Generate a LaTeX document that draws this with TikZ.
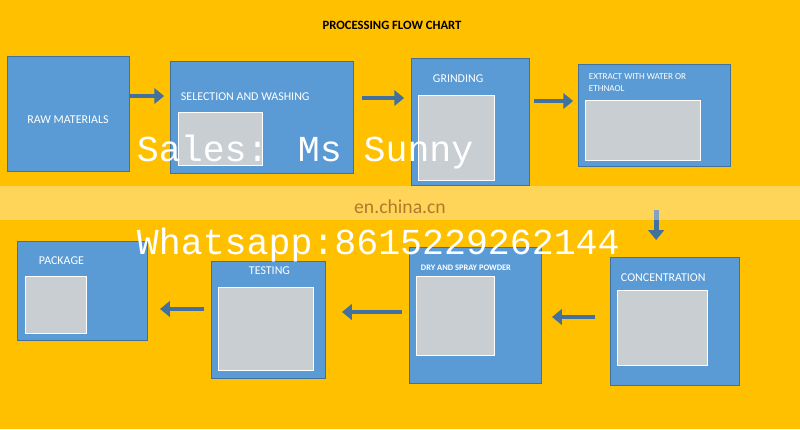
\documentclass[tikz,border=0pt]{standalone}
\usepackage{fontspec}
\setmainfont{Carlito}
\newfontfamily\wmfont{Liberation Mono}
\usetikzlibrary{arrows.meta,positioning}
\definecolor{bgyellow}{HTML}{FFC000}
\definecolor{boxblue}{HTML}{5B9BD5}
\definecolor{boxedge}{HTML}{41719C}
\definecolor{photogrey}{HTML}{C9CED3}
\definecolor{sitebrown}{HTML}{B07A2A}
\tikzset{
  box/.style={draw=boxedge,fill=boxblue,line width=0.8pt,anchor=north west,inner sep=0pt},
  photo/.style={draw=white,fill=photogrey,line width=1pt,anchor=north west,inner sep=0pt},
  lbl/.style={text=white,font=\fontsize{8.5}{9.5}\selectfont,anchor=north west,align=left},
  flow/.style={draw=boxedge,fill=boxblue,line width=3.5pt,-{Triangle[length=7pt,width=11pt]}},
  wmark/.style={text=white,font=\wmfont\fontsize{26}{28}\selectfont,anchor=west}
}
\begin{document}
\begin{tikzpicture}[x=0.025cm,y=-0.025cm]
\useasboundingbox (0,0) rectangle (800,429);
\fill[bgyellow] (0,0) rectangle (800,429);
\node[font=\bfseries\fontsize{9}{10}\selectfont] (title) at (392,25) {PROCESSING FLOW CHART};

% top row
\node[box,minimum width=122*0.025cm,minimum height=115*0.025cm] (raw) at (7,56) {};
\node[text=white,font=\fontsize{8.5}{9.5}\selectfont] (rawlbl) at (68,120) {RAW MATERIALS};
\node[box,minimum width=183*0.025cm,minimum height=112*0.025cm] (sel) at (170,61) {};
\node[lbl] (sellbl) at (176,88) {SELECTION AND WASHING};
\node[photo,minimum width=84*0.025cm,minimum height=53*0.025cm] (selpic) at (178,112) {};
\node[box,minimum width=118*0.025cm,minimum height=127*0.025cm] (grind) at (411,58) {};
\node[lbl] (grindlbl) at (428,70) {GRINDING};
\node[photo,minimum width=76*0.025cm,minimum height=85*0.025cm] (grindpic) at (418,95) {};
\node[box,minimum width=152*0.025cm,minimum height=102*0.025cm] (extr) at (578,64) {};
\node[lbl,font=\fontsize{6.5}{8}\selectfont] (extrlbl) at (584,69) {EXTRACT WITH WATER OR\\ETHNAOL};
\node[photo,minimum width=115*0.025cm,minimum height=60*0.025cm] (extrpic) at (585,100) {};

% bottom row
\node[box,minimum width=129*0.025cm,minimum height=128*0.025cm] (conc) at (610,257) {};
\node[lbl] (conclbl) at (616,269) {CONCENTRATION};
\node[photo,minimum width=90*0.025cm,minimum height=75*0.025cm] (concpic) at (617,290) {};
\node[box,minimum width=132*0.025cm,minimum height=136*0.025cm] (dry) at (409,247) {};
\node[lbl,font=\bfseries\fontsize{6}{7}\selectfont] (drylbl) at (416,260) {DRY AND SPRAY POWDER};
\node[photo,minimum width=78*0.025cm,minimum height=79*0.025cm] (drypic) at (416,276) {};
\node[box,minimum width=114*0.025cm,minimum height=117*0.025cm] (test) at (211,261) {};
\node[lbl] (testlbl) at (244,262) {TESTING};
\node[photo,minimum width=95*0.025cm,minimum height=83*0.025cm] (testpic) at (218,287) {};
\node[box,minimum width=130*0.025cm,minimum height=99*0.025cm] (pack) at (17,241) {};
\node[lbl] (packlbl) at (34,252) {PACKAGE};
\node[photo,minimum width=61*0.025cm,minimum height=57*0.025cm] (packpic) at (25,276) {};

% arrows
\draw[flow] ([yshift=-1.0cm]raw.north east) -- ++(34,0);
\draw[flow] ([xshift=8*0.025cm,yshift=-0.925cm]sel.north east) -- ++(42,0);
\draw[flow] ([xshift=4*0.025cm,yshift=-1.075cm]grind.north east) -- ++(39,0);
\draw[flow] ([xshift=-84*0.025cm,yshift=47*0.025cm]conc.north east) -- ++(0,30);
\draw[flow] ([xshift=-15*0.025cm,yshift=-60*0.025cm]conc.north west) -- ++(-43,0);
\draw[flow] ([xshift=-7*0.025cm,yshift=-65*0.025cm]dry.north west) -- ++(-60,0);
\draw[flow] ([xshift=-7*0.025cm,yshift=-48*0.025cm]test.north west) -- ++(-44,0);

% watermark
\fill[white,opacity=0.35] (0,186) rectangle (800,220);
\node[wmark] (sales) at (132,152) {Sales: Ms Sunny};
\node[text=sitebrown,font=\fontsize{14}{16}\selectfont] (site) at (400,207) {en.china.cn};
\node[wmark] (wapp) at (132,245) {Whatsapp:8615229262144};
\end{tikzpicture}
\end{document}
